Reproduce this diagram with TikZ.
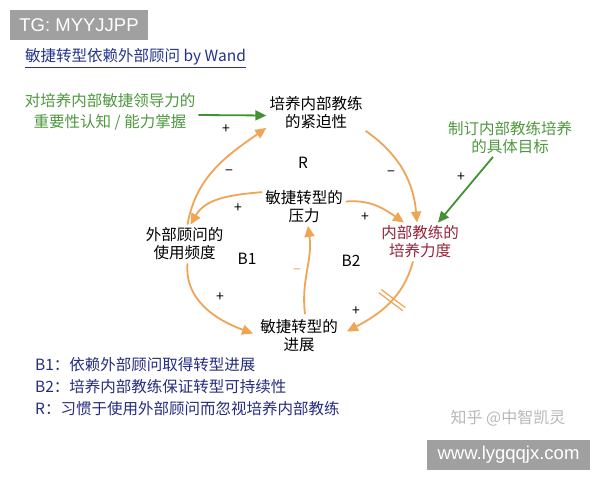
\documentclass[tikz,border=0pt]{standalone}
\usepackage{fontspec}
\setmainfont{Noto Sans CJK SC}
\newfontfamily\wmfont{Liberation Sans}
\usetikzlibrary{positioning,arrows.meta}
\definecolor{arcorange}{RGB}{240,164,86}
\definecolor{loopgreen}{RGB}{66,146,52}
\definecolor{textgreen}{RGB}{78,152,62}
\definecolor{coachred}{RGB}{150,36,58}
\definecolor{legendblue}{RGB}{38,44,128}
\definecolor{titleblue}{RGB}{36,52,140}
\definecolor{markgray}{RGB}{160,160,160}

\begin{document}
\begin{tikzpicture}[x=1pt,y=1pt,
  varnode/.style={align=center,inner sep=3pt,font=\fontsize{15.5}{18}\selectfont},
  arcline/.style={arcorange,line width=1.8pt,-{Triangle[length=11pt,width=10pt]}},
  greenline/.style={loopgreen,line width=1.8pt,-{Triangle[length=11pt,width=10pt]}},
  sign/.style={inner sep=1pt,font=\fontsize{14}{14}\selectfont},
  legendtext/.style={text=legendblue,inner sep=2pt,font=\fontsize{15.5}{18}\selectfont},
  markbox/.style={fill=markgray,text=white,inner sep=0pt,font=\wmfont\fontsize{18.5}{20}\selectfont}]
\useasboundingbox[fill=white] (0,0) rectangle (600,480);

% watermarks
\node[markbox,minimum width=138pt,minimum height=30pt] (tgmark) at (79,455) {TG: MYYJJPP};
\node[markbox,minimum width=163pt,minimum height=30pt] (webmark) at (508.5,25) {www.lygqqjx.com};
\node[text=black!28,font=\fontsize{16}{16}\selectfont] (zhihu) at (508,62) {知乎 @中智凯灵};

% title
\node[anchor=west,text=titleblue,inner sep=2pt,font=\fontsize{15.5}{18}\selectfont] (title) at (23,422) {\underline{敏捷转型依赖外部顾问 by Wand}};

% variables
\node[varnode,text=textgreen,font=\fontsize{15.5}{21}\selectfont] (aware) at (110,368) {对培养内部敏捷领导力的\\重要性认知 / 能力掌握};
\node[varnode] (urgency) at (316,367.5) {培养内部教练\\的紧迫性};
\node[varnode,text=textgreen] (target) at (510,342.5) {制订内部教练培养\\的具体目标};
\node[varnode] (pressure) at (304,273.5) {敏捷转型的\\压力};
\node[varnode,text=coachred] (coaching) at (420,238) {内部教练的\\培养力度};
\node[varnode] (consult) at (184.5,236) {外部顾问的\\使用频度};
\node[varnode] (progress) at (299,144.5) {敏捷转型的\\进展};

% loop names
\node[varnode] (loopr) at (303,317) {R};
\node[varnode] (loopb1) at (247,221) {B1};
\node[varnode] (loopb2) at (351,219) {B2};

% links
\draw[greenline] ([yshift=-3pt]aware.east) -- ([yshift=-3pt]urgency.west);
\draw[greenline] ([xshift=-17pt]target.south) -- ([xshift=18pt]coaching.north);
\draw[arcline] ([xshift=3pt]consult.north) to[out=80,in=215] ([yshift=4pt]urgency.south west);
\draw[arcline] ([yshift=1pt]urgency.south east) to[out=-35,in=95] ([xshift=-3pt]coaching.north);
\draw[arcline] ([yshift=5pt]pressure.east) to[out=5,in=145] ([xshift=-16pt]coaching.north);
\draw[arcline] ([yshift=-5pt]pressure.north west) to[out=185,in=60] ([xshift=6pt]consult.north);
\draw[arcline] ([xshift=3pt]consult.south) to[out=-95,in=160] ([xshift=-4pt,yshift=2pt]progress.west);
\draw[arcline] ([xshift=6pt,yshift=2pt]progress.north) to[out=97,in=-82] ([xshift=4pt]pressure.south);
\draw[arcline] ([xshift=-7pt]coaching.south) to[out=-105,in=28] coordinate[pos=0.45] (delay) ([xshift=6pt,yshift=4pt]progress.east);
\draw[arcorange,line width=1.2pt] (delay) ++(-13.2,7.4) -- ++(24,-18) (delay) ++(-10.8,10.6) -- ++(24,-18);

% polarities
\node[sign] (s1) at (226,351) {+};
\node[sign] (s2) at (229,307) {−};
\node[sign] (s3) at (391,306) {−};
\node[sign] (s4) at (238,272) {+};
\node[sign] (s5) at (365,263) {+};
\node[sign] (s6) at (461,303) {+};
\node[sign] (s7) at (220,183) {+};
\node[sign,text=arcorange] (s8) at (297,208) {−};
\node[sign] (s9) at (356,169) {+};

% legend
\node[legendtext,anchor=west] (lgb1) at (33,115) {B1：依赖外部顾问取得转型进展};
\node[legendtext,below=3pt of lgb1.south west,anchor=north west] (lgb2) {B2：培养内部教练保证转型可持续性};
\node[legendtext,below=3pt of lgb2.south west,anchor=north west] (lgr) {R：习惯于使用外部顾问而忽视培养内部教练};
\end{tikzpicture}
\end{document}
